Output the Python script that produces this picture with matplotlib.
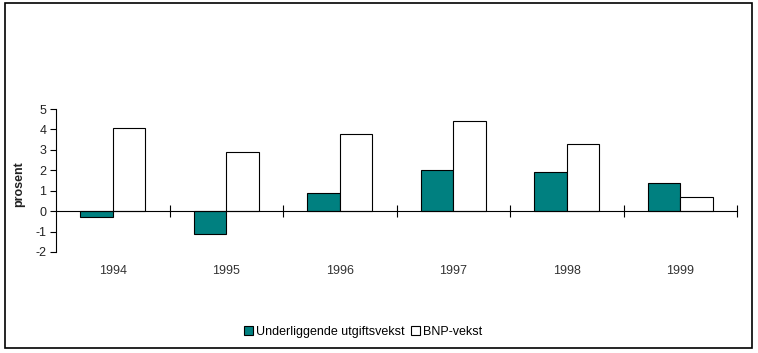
import matplotlib
matplotlib.use("Agg")
import numpy as np
from matplotlib import pyplot as plt
from matplotlib.patches import Rectangle

years = ["1994", "1995", "1996", "1997", "1998", "1999"]
utgift = [-0.3, -1.1, 0.9, 2.0, 1.9, 1.4]
bnp = [4.05, 2.9, 3.8, 4.4, 3.3, 0.7]
series_names = ["Underliggende utgiftsvekst", "BNP-vekst"]

plt.rcParams["font.family"] = ["Liberation Sans", "DejaVu Sans"]
plt.rcParams["axes.unicode_minus"] = False

fig = plt.figure(figsize=(7.58, 3.53), dpi=100)
W, H = 758, 353
ax = fig.add_axes([56 / W, 1 - 252 / H, (737 - 56) / W, (252 - 109) / H])

x = np.arange(len(years)) + 0.5
w = 1 / 3.5
ax.bar(x - w / 2, utgift, w, color="#008080", edgecolor="black", linewidth=0.8,
       label=series_names[0])
ax.bar(x + w / 2, bnp, w, color="white", edgecolor="black", linewidth=0.8,
       label=series_names[1])

ax.set_xlim(0, len(years))
ax.set_ylim(-2, 5)
ax.set_yticks(range(-2, 6))
ax.tick_params(axis="y", direction="out", length=4, width=0.8, labelsize=9,
               pad=3, labelcolor="#222222")

# category axis crossing at zero, ticks at category boundaries
ax.spines["top"].set_visible(False)
ax.spines["right"].set_visible(False)
ax.spines["bottom"].set_position(("data", 0))
ax.spines["left"].set_linewidth(0.8)
ax.spines["bottom"].set_linewidth(0.8)
ax.set_xticks(np.arange(1, len(years) + 1))
ax.tick_params(axis="x", direction="inout", length=8, width=0.8,
               labelbottom=False)
for xi, yr in zip(x, years):
    ax.text(xi, -0.13, yr, transform=ax.get_xaxis_transform(),
            ha="center", va="center", fontsize=9, color="#333333")

ax.set_ylabel("prosent", fontsize=9, fontweight="bold", color="#222222")
ax.yaxis.set_label_coords(-0.045, 0.475)

fig.legend(loc="center", bbox_to_anchor=(363 / W, 1 - 332 / H), ncol=2,
           frameon=False, fontsize=9, handlelength=0.7, handleheight=0.7,
           handletextpad=0.25, columnspacing=0.5)

# outer frame
fig.patches.append(Rectangle((5 / W, 1 - 348 / H), (752 - 5) / W, (348 - 3) / H,
                             transform=fig.transFigure, fill=False,
                             edgecolor="black", linewidth=1.2))

fig.savefig("out.png", dpi=100)
